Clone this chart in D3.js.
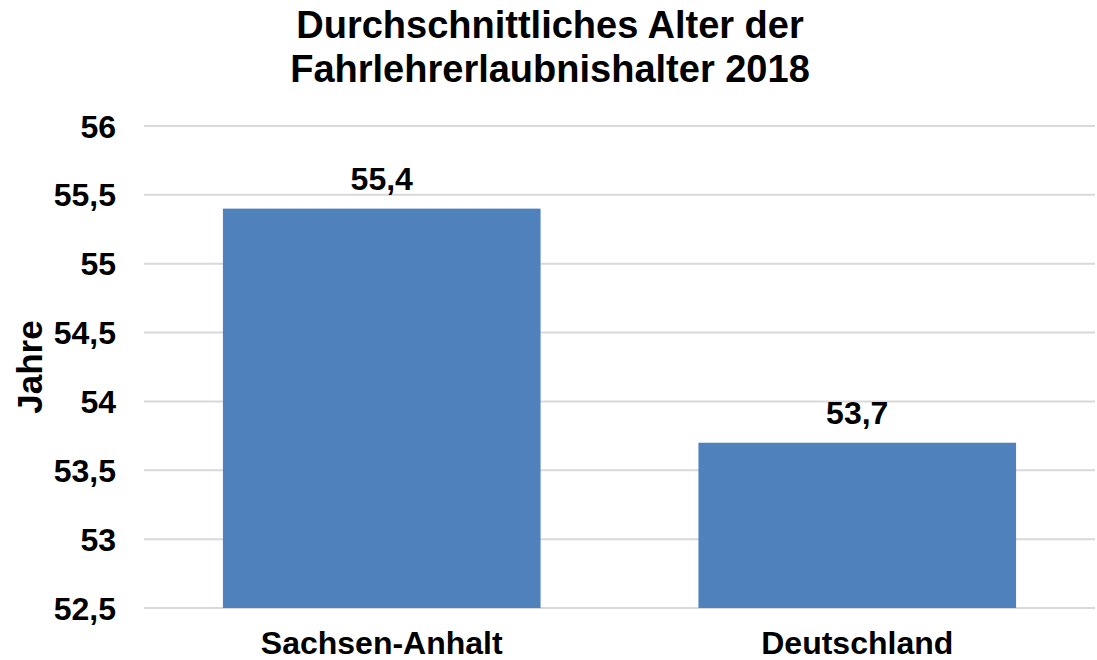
<!DOCTYPE html>
<html><head><meta charset="utf-8">
<script src="https://cdn.jsdelivr.net/npm/d3@7"></script>
<style>body{margin:0;background:#fff}svg{display:block}text{font-family:"Liberation Sans",Arial,sans-serif;font-weight:bold;fill:#000}</style>
</head><body>
<script>
const categories = ["Sachsen-Anhalt", "Deutschland"];
const values = [55.4, 53.7];
const valueLabels = ["55,4", "53,7"];
const yTicks = [52.5, 53, 53.5, 54, 54.5, 55, 55.5, 56];
const titleLines = ["Durchschnittliches Alter der", "Fahrlehrerlaubnishalter 2018"];
const yTitle = "Jahre";

const W = 1097, H = 660;
const mLeft = 144, mRight = 1095, mTop = 126, mBottom = 608;
const svg = d3.select("body").append("svg").attr("width", W).attr("height", H);

const x = d3.scaleBand().domain(categories).range([mLeft, mRight]).paddingInner(0.332).paddingOuter(0.166);
const y = d3.scaleLinear().domain([52.5, 56]).range([mBottom, mTop]);
const fmt = v => String(v).replace(".", ",");

// grid
svg.append("g").selectAll("line").data(yTicks).join("line")
  .attr("x1", mLeft).attr("x2", mRight)
  .attr("y1", d => y(d)).attr("y2", d => y(d))
  .attr("stroke", "#d9d9d9").attr("stroke-width", 2);

// y tick labels
svg.append("g").selectAll("text").data(yTicks).join("text")
  .attr("x", 116).attr("y", d => y(d)).attr("dy", "0.36em")
  .attr("text-anchor", "end").attr("font-size", 32).text(fmt);

// bars
svg.append("g").selectAll("rect").data(values).join("rect")
  .attr("x", (d, i) => x(categories[i])).attr("width", x.bandwidth())
  .attr("y", d => y(d)).attr("height", d => y(52.5) - y(d))
  .attr("fill", "#4f81bd");

// value labels
svg.append("g").selectAll("text").data(values).join("text")
  .attr("x", (d, i) => x(categories[i]) + x.bandwidth() / 2)
  .attr("y", d => y(d) - 19)
  .attr("text-anchor", "middle").attr("font-size", 32)
  .text((d, i) => valueLabels[i]);

// category labels
svg.append("g").selectAll("text").data(categories).join("text")
  .attr("x", d => x(d) + x.bandwidth() / 2).attr("y", 654)
  .attr("text-anchor", "middle").attr("font-size", 32).text(d => d);

// y title
svg.append("text").attr("transform", `translate(42,${(mTop + mBottom) / 2}) rotate(-90)`)
  .attr("text-anchor", "middle").attr("font-size", 35).text(yTitle);

// title
svg.append("g").selectAll("text").data(titleLines).join("text")
  .attr("x", 550).attr("y", (d, i) => 38 + i * 44)
  .attr("text-anchor", "middle").attr("font-size", 38).text(d => d);
</script>
</body></html>
